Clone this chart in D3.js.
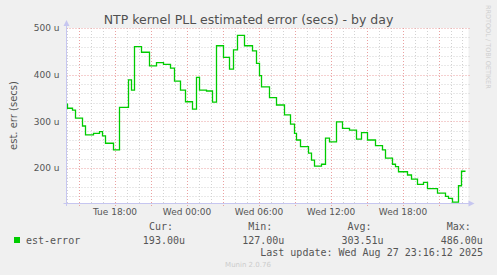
<!DOCTYPE html>
<html>
<head>
<meta charset="utf-8">
<script src="https://cdn.jsdelivr.net/npm/d3@7"></script>
<style>
  body { margin: 0; background: #f0f0f0; }
  svg { display: block; font-family: "DejaVu Sans", sans-serif; }
  .mono { font-family: "DejaVu Sans Mono", monospace; }
</style>
</head>
<body>
<div id="chart"></div>
<script>
// est-error samples (step changes), microseconds
var times = [
  "2025-08-26T14:00", "2025-08-26T14:05", "2025-08-26T14:30", "2025-08-26T14:45",
  "2025-08-26T15:20", "2025-08-26T15:35", "2025-08-26T16:15", "2025-08-26T16:45",
  "2025-08-26T17:00", "2025-08-26T17:15", "2025-08-26T17:55", "2025-08-26T18:25",
  "2025-08-26T19:10", "2025-08-26T19:25", "2025-08-26T19:40", "2025-08-26T20:15",
  "2025-08-26T20:55", "2025-08-26T21:30", "2025-08-26T22:05", "2025-08-26T22:40",
  "2025-08-26T23:00", "2025-08-26T23:30", "2025-08-26T23:55", "2025-08-27T00:30",
  "2025-08-27T00:50", "2025-08-27T01:05", "2025-08-27T01:40", "2025-08-27T02:10",
  "2025-08-27T02:30", "2025-08-27T03:05", "2025-08-27T03:35", "2025-08-27T03:55",
  "2025-08-27T04:15", "2025-08-27T04:50", "2025-08-27T05:30", "2025-08-27T05:50",
  "2025-08-27T06:05", "2025-08-27T06:15", "2025-08-27T06:55", "2025-08-27T07:30",
  "2025-08-27T08:10", "2025-08-27T08:40", "2025-08-27T09:00", "2025-08-27T09:10",
  "2025-08-27T09:30", "2025-08-27T10:10", "2025-08-27T10:25", "2025-08-27T10:40",
  "2025-08-27T11:15", "2025-08-27T11:35", "2025-08-27T11:55", "2025-08-27T12:30",
  "2025-08-27T13:00", "2025-08-27T13:35", "2025-08-27T14:10", "2025-08-27T14:35",
  "2025-08-27T15:05", "2025-08-27T15:45", "2025-08-27T16:20", "2025-08-27T16:35",
  "2025-08-27T17:10", "2025-08-27T17:25", "2025-08-27T17:40", "2025-08-27T18:25",
  "2025-08-27T18:45", "2025-08-27T19:15", "2025-08-27T19:45", "2025-08-27T20:05",
  "2025-08-27T20:55", "2025-08-27T21:35", "2025-08-27T21:50", "2025-08-27T22:10",
  "2025-08-27T22:40", "2025-08-27T22:55", "2025-08-27T23:15"
];
var values = [
  337, 328, 324, 307,
  290, 271, 274, 278,
  269, 253, 239, 330,
  389, 367, 460, 448,
  419, 426, 422, 414,
  386, 367, 342, 326,
  394, 367, 365, 341,
  462, 437, 412, 453,
  484, 462, 451, 424,
  398, 374, 351, 335,
  314, 294, 274, 260,
  246, 232, 217, 204,
  208, 264, 256, 299,
  285, 281, 262, 276,
  260, 248, 239, 221,
  208, 203, 192, 185,
  176, 165, 169, 156,
  146, 139, 135, 127,
  162, 193, 193
];

var yTicks = [200, 300, 400, 500];
var seriesName = "est-error";
var statLabels = ["Cur:", "Min:", "Avg:", "Max:"];
var statValues = ["193.00u", "127.00u", "303.51u", "486.00u"];
var lastUpdate = "Last update: Wed Aug 27 23:16:12 2025";
var title = "NTP kernel PLL estimated error (secs) - by day";
var yLabel = "est. err (secs)";

var W = 497, H = 275;
var plot = {left: 66.5, right: 468.5, top: 28, bottom: 203};

var parse = d3.timeParse("%Y-%m-%dT%H:%M");
var data = times.map(function(t, i) { return {t: parse(t), v: values[i]}; });

var svg = d3.select("#chart").append("svg")
  .attr("width", W).attr("height", H);

svg.append("rect").attr("width", W).attr("height", H).attr("fill", "#f0f0f0");

var x = d3.scaleTime()
  .domain([parse("2025-08-26T14:00"), parse("2025-08-27T23:30")])
  .range([plot.left, plot.right]);

var y = d3.scaleLinear()
  .domain([125, 500])
  .range([plot.bottom, plot.top]);

// plot background
svg.append("rect")
  .attr("x", plot.left).attr("y", plot.top)
  .attr("width", plot.right - plot.left).attr("height", plot.bottom - plot.top)
  .attr("fill", "#ffffff");

var snap = function(v) { return Math.round(v) + 0.5; };

// minor grid
var minorY = d3.range(140, 500, 20).filter(function(d) { return d % 100 !== 0; });
var minorX = x.ticks(d3.timeHour.every(1)).filter(function(d) { return d.getHours() % 3 !== 0; });
var grid = svg.append("g").attr("fill", "none");

grid.selectAll(".minor-y").data(minorY).enter().append("line")
  .attr("x1", plot.left).attr("x2", plot.right + 1)
  .attr("y1", function(d) { return snap(y(d)); }).attr("y2", function(d) { return snap(y(d)); })
  .attr("stroke", "#d2d2d2").attr("stroke-dasharray", "1,2");

grid.selectAll(".minor-x").data(minorX).enter().append("line")
  .attr("y1", plot.top).attr("y2", plot.bottom)
  .attr("x1", function(d) { return snap(x(d)); }).attr("x2", function(d) { return snap(x(d)); })
  .attr("stroke", "#d2d2d2").attr("stroke-dasharray", "1,2");

// major grid (red dotted)
var majorX = x.ticks(d3.timeHour.every(3));
grid.selectAll(".major-y").data(yTicks).enter().append("line")
  .attr("x1", plot.left).attr("x2", plot.right + 1)
  .attr("y1", function(d) { return snap(y(d)); }).attr("y2", function(d) { return snap(y(d)); })
  .attr("stroke", "#eaa0a0").attr("stroke-dasharray", "1,2");

grid.selectAll(".major-x").data(majorX).enter().append("line")
  .attr("y1", plot.top).attr("y2", plot.bottom + 3)
  .attr("x1", function(d) { return snap(x(d)); }).attr("x2", function(d) { return snap(x(d)); })
  .attr("stroke", "#eaa0a0").attr("stroke-dasharray", "1,2");

// the series line
var line = d3.line()
  .x(function(d) { return x(d.t); })
  .y(function(d) { return y(d.v); })
  .curve(d3.curveStepAfter);

svg.append("path")
  .datum(data)
  .attr("d", line)
  .attr("fill", "none")
  .attr("stroke", "#00cc00")
  .attr("stroke-width", 1.3);

// axes lines + arrows
var axisCol = "#c6c6f0";
svg.append("line").attr("x1", plot.left).attr("x2", plot.left)
  .attr("y1", plot.bottom + 3).attr("y2", plot.top - 4)
  .attr("stroke", axisCol);
svg.append("line").attr("x1", plot.left - 3).attr("x2", plot.right + 1)
  .attr("y1", plot.bottom + 0.5).attr("y2", plot.bottom + 0.5)
  .attr("stroke", axisCol);
svg.append("path")
  .attr("d", "M" + (plot.left - 3) + "," + (plot.top - 2) + "L" + plot.left + "," + (plot.top - 8) +
             "L" + (plot.left + 3) + "," + (plot.top - 2) + "Z")
  .attr("fill", axisCol);
svg.append("path")
  .attr("d", "M" + (plot.right) + "," + (plot.bottom - 2.5) + "L" + (plot.right + 6) + "," + (plot.bottom + 0.5) +
             "L" + (plot.right) + "," + (plot.bottom + 3.5) + "Z")
  .attr("fill", axisCol);

// tick labels
var xAxis = svg.append("g")
  .attr("transform", "translate(0," + plot.bottom + ")")
  .call(d3.axisBottom(x).ticks(d3.timeHour.every(6)).tickFormat(d3.timeFormat("%a %H:%M")).tickSize(0).tickPadding(6));
xAxis.select(".domain").remove();
xAxis.selectAll("text").attr("fill", "#555").style("font-size", "9px").style("font-family", "DejaVu Sans");

var yAxis = svg.append("g")
  .attr("transform", "translate(" + plot.left + ",0)")
  .call(d3.axisLeft(y).tickValues(yTicks).tickFormat(function(d) { return d + " u"; }).tickSize(0).tickPadding(7));
yAxis.select(".domain").remove();
yAxis.selectAll("text").attr("fill", "#555").style("font-size", "9px").style("font-family", "DejaVu Sans");

// title + axis label
svg.append("text")
  .attr("x", 248.5).attr("y", 24)
  .attr("text-anchor", "middle")
  .attr("fill", "#505050")
  .style("font-size", "12.5px")
  .text(title);

svg.append("text")
  .attr("transform", "translate(16.5," + ((plot.top + plot.bottom) / 2) + ") rotate(-90)")
  .attr("text-anchor", "middle")
  .attr("fill", "#555")
  .style("font-size", "10px")
  .text(yLabel);

svg.append("text")
  .attr("transform", "translate(485.5,5) rotate(90)")
  .attr("fill", "#cfcfcf")
  .style("font-size", "6.5px")
  .text("RRDTOOL / TOBI OETIKER");

// legend
var legend = svg.append("g").attr("class", "mono").attr("fill", "#555").style("font-size", "10px");
legend.append("rect").attr("x", 14).attr("y", 237).attr("width", 6).attr("height", 6).attr("fill", "#00cc00");
legend.append("text").attr("x", 26).attr("y", 243.5).text(seriesName);

legend.selectAll(".stat-h").data(statLabels).enter().append("text")
  .attr("x", function(d, i) { return 173 + i * 99.3; })
  .attr("y", 230)
  .attr("text-anchor", "end")
  .text(function(d) { return d; });

legend.selectAll(".stat-v").data(statValues).enter().append("text")
  .attr("x", function(d, i) { return 185 + i * 99.3; })
  .attr("y", 243.5)
  .attr("text-anchor", "end")
  .text(function(d) { return d; });

legend.append("text").attr("x", 483).attr("y", 255.5).attr("text-anchor", "end").text(lastUpdate);

svg.append("text")
  .attr("x", 248).attr("y", 266.5)
  .attr("text-anchor", "middle")
  .attr("fill", "#cccccc")
  .style("font-size", "7px")
  .text("Munin 2.0.76");
</script>
</body>
</html>
